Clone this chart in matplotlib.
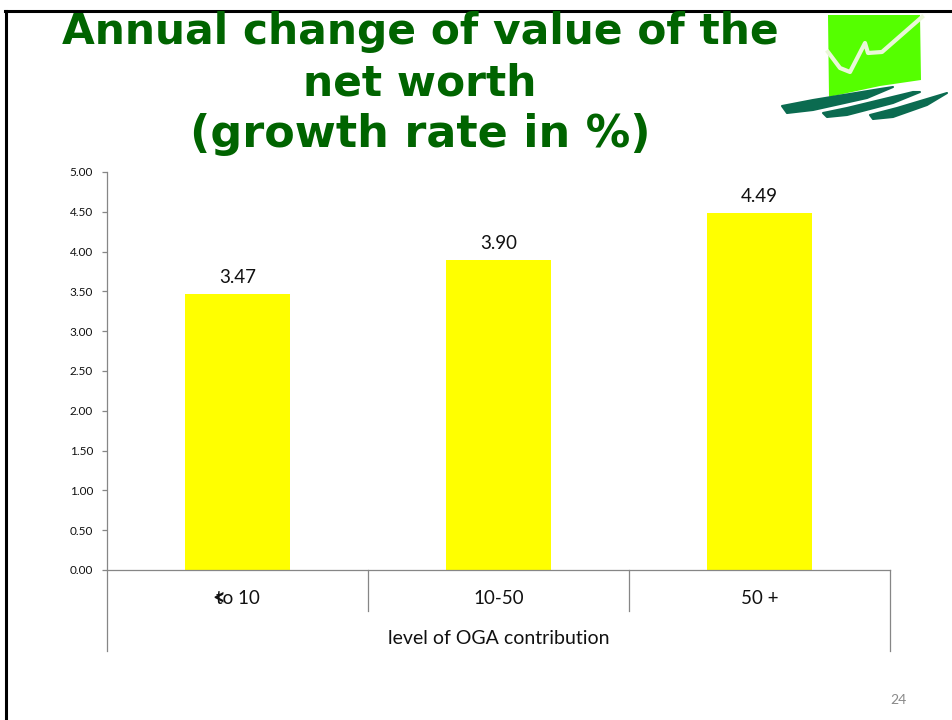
import matplotlib
matplotlib.use("Agg")
import matplotlib.pyplot as plt
import matplotlib.patches as patches

plt.rcParams["font.family"] = ["Lato", "DejaVu Sans"]

W, H = 952, 720

categories = ["to 10", "10-50", "50 +"]
growth = [3.47, 3.90, 4.49]
y_ticks = [0, 0.5, 1, 1.5, 2, 2.5, 3, 3.5, 4, 4.5, 5]
boundaries = [-0.5, 0.5, 1.5, 2.5]

AXIS = "#868686"
DARK_GREEN = "#006400"
AX_H = 398


def px(x, y):
    # pixel position in the picture -> figure fraction
    return x / W, 1 - y / H


fig = plt.figure(figsize=(W / 100, H / 100), dpi=100, facecolor="white")

# slide frame
fig.add_artist(plt.Line2D([5.5 / W, 5.5 / W], [0, 1 - 10.5 / H], color="black", lw=2.2))
fig.add_artist(plt.Line2D([4.5 / W, 1], [1 - 11 / H, 1 - 11 / H], color="black", lw=2.2))

# title, Verdana bold is wider in the last line so it gets a bit more size
for txt, yy, fs in zip(["Annual change of value of the", "net worth", "(growth rate in %)"],
                       [32, 83, 134], [30.5, 30.5, 32]):
    fig.text(*px(420, yy), txt, ha="center", va="center", fontsize=fs, fontweight="bold",
             color=DARK_GREEN, family="DejaVu Sans")

# logo
logo = fig.add_axes([0, 0, 1, 1], facecolor="none", zorder=3)
logo.set_xlim(0, W)
logo.set_ylim(H, 0)
logo.axis("off")
logo.add_patch(patches.Polygon([(828, 15), (920, 15), (921, 80), (880, 86), (829, 97)],
                               facecolor="#55FF00", edgecolor="none"))
logo.plot([828, 840, 850, 865, 868, 882, 922], [52, 68, 72, 43, 53, 52, 17], color="#EAF7D8", lw=3,
          solid_joinstyle="round")
for stroke in ([(782, 106), (813, 100), (880, 89), (893, 87), (867, 98), (813, 110), (787, 113)],
               [(823, 113), (847, 108), (913, 92), (920, 92), (893, 103), (847, 115), (827, 117)],
               [(870, 115), (897, 108), (947, 93), (927, 105), (893, 117), (873, 119)]):
    logo.add_patch(patches.Polygon(stroke, facecolor="#0B6B50", edgecolor="#0B6B50", lw=1.5,
                                   joinstyle="round"))

# chart
ax = fig.add_axes([107 / W, 1 - 570 / H, (890 - 107) / W, AX_H / H])
ax.bar(range(3), growth, width=0.4, color="#FFFF00")
ax.set_xlim(-0.5, 2.5)
ax.set_ylim(0, 5)
ax.set_yticks(y_ticks, [f"{v:.2f}" for v in y_ticks])
ax.tick_params(axis="y", labelsize=8.5, length=3.5, width=0.9, color=AXIS, pad=6.5, labelcolor="#111111")
ax.set_xticks([])
for side in ["top", "right"]:
    ax.spines[side].set_visible(False)
for side in ["left", "bottom"]:
    ax.spines[side].set_color(AXIS)
    ax.spines[side].set_linewidth(0.9)

for i, v in enumerate(growth):
    ax.annotate(f"{v:.2f}", (i, v), xytext=(0, 5.5), textcoords="offset points",
                ha="center", va="bottom", fontsize=13.5, color="#111111")

# two level category axis
trans = ax.get_xaxis_transform()
for b in boundaries:
    drop = 81 if b in (boundaries[0], boundaries[-1]) else 41
    ax.plot([b, b], [0, -drop / AX_H], transform=trans, color=AXIS, lw=0.9, clip_on=False)
for i, c in enumerate(categories):
    ax.text(i, -29 / AX_H, c, transform=trans, ha="center", va="center", fontsize=13.5, color="#111111")
# garbled "<" glyph sitting on top of the first label
ax.text(-0.07, -27.5 / AX_H, "<", transform=trans, ha="center", va="center", fontsize=16,
        fontweight="bold", color="#111111")
ax.text(1, -68.5 / AX_H, "level of OGA contribution", transform=trans, ha="center", va="center",
        fontsize=14, color="#111111")

# slide number
fig.text(*px(898, 700), "24", ha="center", va="center", fontsize=10, color="#8A8A8A")

fig.savefig("out.png", dpi=100)
